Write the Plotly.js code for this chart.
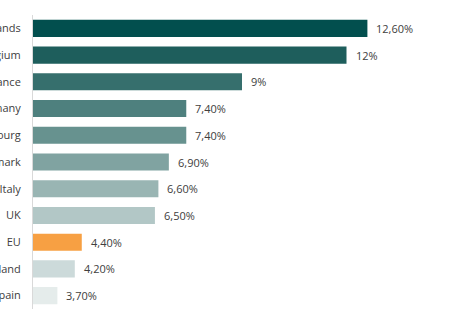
<!DOCTYPE html>
<html>
<head>
<meta charset="utf-8">
<script src="https://cdn.plot.ly/plotly-3.0.1.min.js"></script>
<style>html,body{margin:0;padding:0;background:#fff;}#chart{width:474px;height:324px;}</style>
</head>
<body>
<div id="chart"></div>
<script>
const categories = ["Netherlands", "Belgium", "France", "Germany", "Luxembourg", "Denmark", "Italy", "UK", "EU", "Ireland", "Spain"];
const values = [12.6, 12, 9, 7.4, 7.4, 6.9, 6.6, 6.5, 4.4, 4.2, 3.7];
const valueLabels = ["12,60%", "12%", "9%", "7,40%", "7,40%", "6,90%", "6,60%", "6,50%", "4,40%", "4,20%", "3,70%"];
const barColors = ["#024F4E", "#1E5E5C", "#366F6D", "#4E807E", "#67928F", "#80A3A1", "#99B5B3", "#B2C7C6", "#F7A043", "#CCDADA", "#E5ECEB"];

const font = "'Open Sans', 'Noto Sans', sans-serif";

const trace = {
  type: 'bar',
  orientation: 'h',
  y: categories,
  x: values,
  marker: { color: barColors, line: { width: 0 } },
  hoverinfo: 'none'
};

const annotations = categories.map((c, i) => ({
  x: values[i], y: c, xref: 'x', yref: 'y',
  text: valueLabels[i], showarrow: false,
  xanchor: 'left', yanchor: 'middle', xshift: 7,
  font: { family: font, size: 11, color: '#404040' }
}));

const layout = {
  width: 474, height: 324,
  margin: { l: 33, r: 23, t: 15, b: 15, pad: 0 },
  paper_bgcolor: '#ffffff', plot_bgcolor: '#ffffff',
  showlegend: false,
  bargap: 0.36,
  xaxis: {
    range: [3, 15], visible: false, fixedrange: true
  },
  yaxis: {
    autorange: 'reversed', automargin: false,
    showline: true, linecolor: '#D9D9D9', linewidth: 1,
    showgrid: false, zeroline: false, ticks: '',
    ticklabelstandoff: 9,
    tickfont: { family: font, size: 11, color: '#404040' }
  },
  annotations: annotations
};

Plotly.newPlot('chart', [trace], layout, { displayModeBar: false, staticPlot: true });
</script>
</body>
</html>
